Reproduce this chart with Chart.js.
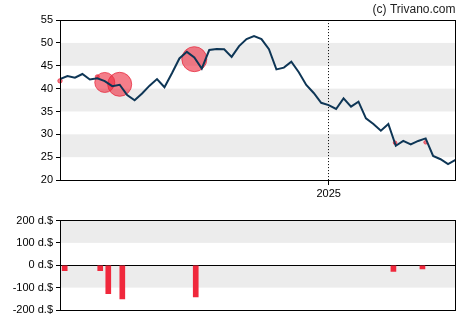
<!DOCTYPE html>
<html>
<head>
<meta charset="utf-8">
<script src="https://cdn.jsdelivr.net/npm/chart.js@4/dist/chart.umd.min.js"></script>
<style>
  html, body { margin: 0; padding: 0; background: #fff; }
  #wrap { position: relative; width: 470px; height: 325px; }
  canvas { position: absolute; left: 0; }
  #price { top: 0; }
  #flows { top: 200px; }
</style>
</head>
<body>
<div id="wrap">
  <canvas id="price" width="470" height="200"></canvas>
  <canvas id="flows" width="470" height="125"></canvas>
</div>
<script>
// Weekly closing prices (one value per week)
const weeklyClose = [
  42.1, 42.75, 42.4, 43.2, 42.0, 42.25, 41.65, 40.55, 40.85, 38.6,
  37.45, 38.95, 40.65, 42.1, 40.3, 43.35, 46.6, 48.05, 46.85, 44.4,
  48.45, 48.65, 48.6, 46.95, 49.3, 50.85, 51.5, 50.85, 48.65, 44.2,
  44.6, 45.9, 43.6, 40.8, 39.05, 36.9, 36.4, 35.55, 37.85, 36.05,
  37.15, 33.5, 32.25, 30.8, 32.25, 27.5, 28.55, 27.8, 28.55, 29.1,
  25.25, 24.55, 23.5, 24.4
];

// Year marker on the time axis
const yearTickWeek = 36;
const yearTickLabel = '2025';

// Insider trades: week, price, marker size
const tradeWeeks = [0, 5.0, 6.0, 8.0, 18.0, 44.9, 49.0];
const tradePrices = [41.7, 42.6, 41.35, 40.95, 46.45, 28.15, 28.25];
const tradeMarkerSize = [2.2, 2, 10, 12, 12.5, 1.8, 1.8];

// Net insider flows in d.$
const flowWeeks = [0.63, 5.39, 6.47, 8.35, 18.19, 44.68, 48.57];
const flowValues = [-24, -24, -127, -150, -142, -28, -16];

// Price / flow axis ticks
const priceTicks = { min: 20, max: 55, step: 5 };
const flowTicks = { min: -200, max: 200, step: 100, unit: ' d.$' };

const FONT = { family: "'Liberation Sans', Arial, sans-serif", size: 11 };
Chart.defaults.font.family = FONT.family;
Chart.defaults.color = '#000';

// Alternating background bands plus a black frame round the plot area
const framePlugin = {
  id: 'frameBands',
  beforeDraw(chart, args, opts) {
    const { ctx, chartArea: a, scales: { y } } = chart;
    ctx.save();
    ctx.fillStyle = '#fff';
    ctx.fillRect(0, 0, chart.width, chart.height);
    ctx.fillStyle = '#ececec';
    for (const [lo, hi] of opts.ranges || []) {
      const t = y.getPixelForValue(hi), b = y.getPixelForValue(lo);
      ctx.fillRect(a.left, t, a.right - a.left, b - t);
    }
    ctx.restore();
  },
  afterDraw(chart) {
    const { ctx, chartArea: a } = chart;
    const l = Math.floor(a.left) + 0.5, t = Math.floor(a.top) + 0.5;
    const r = Math.floor(a.right) + 0.5, b = Math.floor(a.bottom) + 0.5;
    ctx.save();
    ctx.strokeStyle = '#000';
    ctx.lineWidth = 1;
    ctx.strokeRect(l, t, r - l, b - t);
    ctx.restore();
  }
};

const lastWeek = weeklyClose.length - 1;

new Chart(document.getElementById('price'), {
  type: 'line',
  data: {
    datasets: [
      {
        type: 'line',
        data: weeklyClose.map((v, i) => ({ x: i, y: v })),
        borderColor: '#0e3656',
        borderWidth: 2,
        pointRadius: 0,
        tension: 0,
        fill: false,
        order: 0
      },
      {
        type: 'bubble',
        data: tradeWeeks.map((w, i) => ({ x: w, y: tradePrices[i], r: tradeMarkerSize[i] })),
        backgroundColor: 'rgba(236, 40, 60, 0.6)',
        borderColor: 'rgba(230, 40, 60, 0.75)',
        borderWidth: 1,
        clip: false,
        order: 1
      }
    ]
  },
  options: {
    responsive: false,
    devicePixelRatio: 1,
    animation: false,
    events: [],
    layout: { padding: { left: 0, right: 14.5, top: 0, bottom: 0 } },
    plugins: {
      legend: { display: false },
      tooltip: { enabled: false },
      title: {
        display: true,
        text: '(c) Trivano.com',
        align: 'end',
        color: '#222',
        font: { family: FONT.family, size: 12, weight: 'normal' },
        padding: { top: 2.5, bottom: 3.2 }
      },
      frameBands: { ranges: [[45, 50], [35, 40], [25, 30]] }
    },
    scales: {
      x: {
        type: 'linear',
        min: 0,
        max: lastWeek,
        offset: false,
        afterBuildTicks: s => { s.ticks = [{ value: yearTickWeek }]; },
        afterFit: s => { s.height = 20; },
        ticks: {
          callback: () => yearTickLabel,
          font: FONT, color: '#000', padding: 2,
          maxRotation: 0, autoSkip: false
        },
        grid: {
          color: '#000', lineWidth: 1, drawOnChartArea: true,
          tickLength: 5, tickColor: '#000', tickBorderDash: []
        },
        border: { display: false, dash: [1, 2] }
      },
      y: {
        min: priceTicks.min,
        max: priceTicks.max,
        afterFit: s => { s.width = 60; },
        ticks: { stepSize: priceTicks.step, font: FONT, color: '#000', padding: 3 },
        grid: { drawOnChartArea: false, tickLength: 4, color: '#000', tickColor: '#000' },
        border: { display: false }
      }
    }
  },
  plugins: [framePlugin]
});

new Chart(document.getElementById('flows'), {
  type: 'bar',
  data: {
    datasets: [{
      data: flowWeeks.map((w, i) => ({ x: w, y: flowValues[i] })),
      backgroundColor: '#f0283c',
      borderWidth: 0,
      barThickness: 5
    }]
  },
  options: {
    responsive: false,
    devicePixelRatio: 1,
    animation: false,
    events: [],
    layout: { padding: { left: 0, right: 14.5, top: 20.5, bottom: 15 } },
    plugins: {
      legend: { display: false },
      tooltip: { enabled: false },
      frameBands: { ranges: [[100, 200], [-100, 0]] }
    },
    scales: {
      x: {
        type: 'linear',
        min: 0,
        max: lastWeek,
        offset: false,
        display: false
      },
      y: {
        min: flowTicks.min,
        max: flowTicks.max,
        afterFit: s => { s.width = 60; },
        ticks: {
          stepSize: flowTicks.step, font: FONT, color: '#000', padding: 3,
          callback: v => v + flowTicks.unit
        },
        grid: {
          drawOnChartArea: true,
          color: c => (c.tick && c.tick.value === 0) ? '#000' : 'rgba(0,0,0,0)',
          lineWidth: 1,
          tickLength: 4,
          tickColor: '#000',
          tickWidth: 1
        },
        border: { display: false }
      }
    }
  },
  plugins: [framePlugin]
});
</script>
</body>
</html>
